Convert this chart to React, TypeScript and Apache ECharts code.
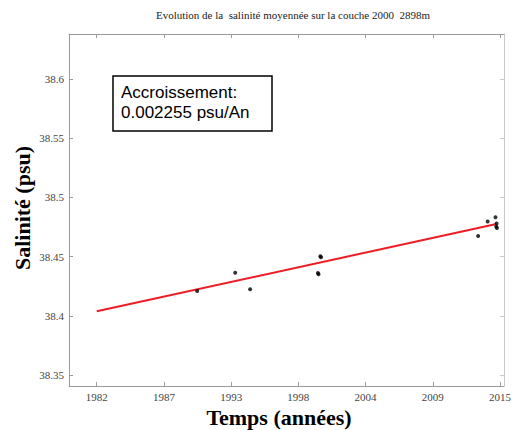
import React, { useEffect, useRef } from "react";
import * as echarts from "echarts";

const xTickValues = [1982, 1987.5, 1993, 1998.5, 2004, 2009.5, 2015];
const yTickValues = [38.35, 38.4, 38.45, 38.5, 38.55, 38.6];
const yTickLabels = ["38.35", "38.4", "38.45", "38.5", "38.55", "38.6"];

const obsYears = [1990.22, 1993.33, 1994.55, 2000.1, 2000.15, 2000.3, 2000.35, 2013.21, 2013.99, 2014.63, 2014.72, 2014.69, 2014.75];
const obsSalinity = [38.4209, 38.4364, 38.4224, 38.4362, 38.435, 38.4503, 38.4495, 38.4674, 38.4796, 38.4832, 38.478, 38.4754, 38.4742];

const trendYears = [1982, 2014.7];
const trendSalinity = [38.4038, 38.4775];

const titleText = "Evolution de la  salinité moyennée sur la couche 2000  2898m";
const xName = "Temps (années)";
const yName = "Salinité (psu)";
const boxText = "Accroissement:\n0.002255 psu/An";

const serif = "'Liberation Serif', 'DejaVu Serif', serif";
const axisGray = "#9a9a9a";

export default function App() {
  const ref = useRef<HTMLDivElement>(null);
  useEffect(() => {
    document.body.style.margin = "0";
    const chart = echarts.init(ref.current!, null, { renderer: "svg" });
    const xMin = 1979.73, xMax = 2015.32, yMin = 38.3407, yMax = 38.638;
    const tickCommon = { show: true, inside: true, length: 4, lineStyle: { color: axisGray } };
    chart.setOption({
      animation: false,
      backgroundColor: "#fff",
      grid: { left: 69, top: 34, right: 6, bottom: 44, containLabel: false },
      xAxis: [
        {
          type: "value", position: "bottom", min: xMin, max: xMax,
          axisLine: { show: true, lineStyle: { color: axisGray, width: 1 } },
          axisTick: { ...tickCommon, customValues: xTickValues },
          axisLabel: {
            customValues: xTickValues,
            formatter: (v: number) => String(Math.floor(v)),
            fontFamily: serif, fontSize: 11, color: "#444", margin: 5,
            showMinLabel: true, showMaxLabel: true,
          },
          splitLine: { show: false },
        },
        {
          type: "value", position: "top", min: xMin, max: xMax,
          axisLine: { show: true, lineStyle: { color: axisGray, width: 1 } },
          axisTick: { ...tickCommon, customValues: xTickValues },
          axisLabel: { show: false },
          splitLine: { show: false },
        },
      ],
      yAxis: [
        {
          type: "value", position: "left", min: yMin, max: yMax,
          axisLine: { show: true, lineStyle: { color: axisGray, width: 1 } },
          axisTick: { ...tickCommon, customValues: yTickValues },
          axisLabel: {
            customValues: yTickValues,
            formatter: (v: number) => {
              const i = yTickValues.findIndex((t) => Math.abs(t - v) < 1e-6);
              return i >= 0 ? yTickLabels[i] : "";
            },
            fontFamily: serif, fontSize: 11, color: "#444", margin: 5,
          },
          splitLine: { show: false },
        },
        {
          type: "value", position: "right", min: yMin, max: yMax,
          axisLine: { show: true, lineStyle: { color: "#c8c8c8", width: 1 } },
          axisTick: { ...tickCommon, customValues: yTickValues, lineStyle: { color: "#c8c8c8" } },
          axisLabel: { show: false },
          splitLine: { show: false },
        },
      ],
      series: [
        {
          type: "line",
          data: trendYears.map((x, i) => [x, trendSalinity[i]]),
          showSymbol: false,
          lineStyle: { color: "#ee1c25", width: 2 },
          z: 2,
        },
        {
          type: "scatter",
          data: obsYears.map((x, i) => [x, obsSalinity[i]]),
          symbolSize: 4,
          itemStyle: { color: "#000" },
          z: 3,
        },
      ],
      graphic: [
        {
          type: "text", x: 293, y: 15,
          style: { text: titleText, font: `11px ${serif}`, fill: "#222", align: "center", verticalAlign: "middle" },
        },
        {
          type: "text", x: 279, y: 417,
          style: { text: xName, font: `bold 22px ${serif}`, fill: "#000", align: "center", verticalAlign: "middle" },
        },
        {
          type: "text", x: 22, y: 208, rotation: Math.PI / 2,
          style: { text: yName, font: `bold 22px ${serif}`, fill: "#000", align: "center", verticalAlign: "middle" },
        },
        {
          type: "rect", shape: { x: 113, y: 76, width: 159, height: 55 },
          style: { fill: "#fff", stroke: "#000", lineWidth: 1.5 }, z: 10,
        },
        {
          type: "text", x: 121, y: 82, z: 11,
          style: { text: boxText, font: "17px 'Liberation Sans', Arial, sans-serif", fill: "#000", lineHeight: 20 },
        },
      ],
    });
    return () => chart.dispose();
  }, []);
  return <div ref={ref} style={{ width: 514, height: 430 }} />;
}
